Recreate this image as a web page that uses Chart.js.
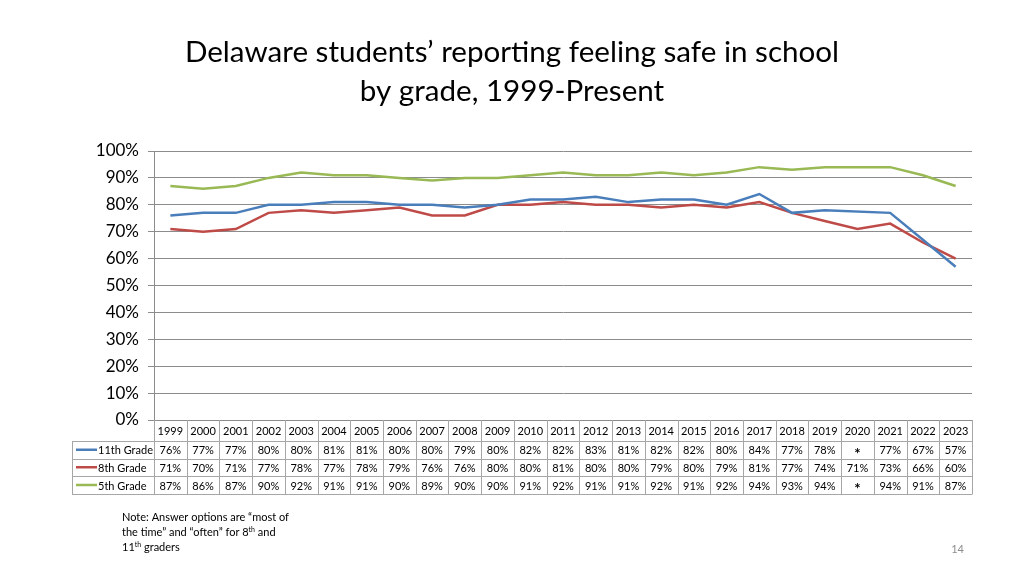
<!DOCTYPE html>
<html>
<head>
<meta charset="utf-8">
<script src="https://cdn.jsdelivr.net/npm/chart.js@4/dist/chart.umd.min.js"></script>
<style>
  html, body { margin: 0; background: #fff; }
  canvas { display: block; }
</style>
</head>
<body>
<canvas id="safeChart" width="1024" height="576"></canvas>
<script>
const years = ['1999', '2000', '2001', '2002', '2003', '2004', '2005', '2006', '2007', '2008', '2009', '2010', '2011',
  '2012', '2013', '2014', '2015', '2016', '2017', '2018', '2019', '2020', '2021', '2022', '2023'];
const grade11 = [76, 77, 77, 80, 80, 81, 81, 80, 80, 79, 80, 82, 82, 83, 81, 82, 82, 80, 84, 77, 78, null, 77, 67, 57];
const grade8 = [71, 70, 71, 77, 78, 77, 78, 79, 76, 76, 80, 80, 81, 80, 80, 79, 80, 79, 81, 77, 74, 71, 73, 66, 60];
const grade5 = [87, 86, 87, 90, 92, 91, 91, 90, 89, 90, 90, 91, 92, 91, 91, 92, 91, 92, 94, 93, 94, null, 94, 91, 87];
const seriesNames = ['11th Grade', '8th Grade', '5th Grade'];
const seriesColors = ['#4a7ebb', '#be4b48', '#98b954'];
const titleLines = ['Delaware students\u2019 reporting feeling safe in school', 'by grade, 1999-Present'];

const FONT = 'Lato, "Open Sans", sans-serif';

// title, data table under the plot, footnote and page number
const slidePlugin = {
  id: 'slide',
  afterDraw(chart) {
    const ctx = chart.ctx;
    const area = chart.chartArea;
    const xs = chart.scales.x;
    const colW = area.width / years.length;
    const top = area.bottom;
    const rows = [top, top + 21, top + 38.5, top + 56, top + 74];
    const labelLeft = 72;

    ctx.save();

    // title
    ctx.fillStyle = '#000';
    ctx.textAlign = 'center';
    ctx.textBaseline = 'alphabetic';
    ctx.font = '29.6px ' + FONT;
    ctx.fillText(titleLines[0], 512, 62);
    ctx.fillText(titleLines[1], 512, 101);

    // table grid
    ctx.strokeStyle = '#a6a6a6';
    ctx.lineWidth = 1;
    ctx.beginPath();
    for (let r = 1; r < rows.length; r++) {
      ctx.moveTo(labelLeft, Math.round(rows[r]) + 0.5);
      ctx.lineTo(area.right, Math.round(rows[r]) + 0.5);
    }
    for (let i = 0; i <= years.length; i++) {
      const px = Math.round(area.left + i * colW) + 0.5;
      ctx.moveTo(px, rows[0]);
      ctx.lineTo(px, Math.round(rows[4]) + 0.5);
    }
    ctx.moveTo(labelLeft + 0.5, Math.round(rows[1]) + 0.5);
    ctx.lineTo(labelLeft + 0.5, Math.round(rows[4]) + 0.5);
    ctx.stroke();

    // header years
    ctx.font = '11px ' + FONT;
    ctx.textBaseline = 'middle';
    ctx.textAlign = 'center';
    years.forEach((y, i) => {
      ctx.fillText(y, xs.getPixelForValue(i), (rows[0] + rows[1]) / 2 + 1);
    });

    // rows
    const values = [grade11, grade8, grade5];
    values.forEach((arr, r) => {
      const cy = (rows[r + 1] + rows[r + 2]) / 2 + 1;
      // legend key
      ctx.strokeStyle = seriesColors[r];
      ctx.lineWidth = 2.5;
      ctx.beginPath();
      ctx.moveTo(labelLeft + 4, cy - 1);
      ctx.lineTo(labelLeft + 25, cy - 1);
      ctx.stroke();
      ctx.textAlign = 'left';
      ctx.fillText(seriesNames[r], labelLeft + 26, cy);
      ctx.textAlign = 'center';
      arr.forEach((v, i) => {
        const px = xs.getPixelForValue(i);
        if (v === null) {
          ctx.font = 'bold 15px ' + FONT;
          ctx.fillText('*', px, cy + 3);
          ctx.font = '11px ' + FONT;
        } else {
          ctx.fillText(v + '%', px, cy);
        }
      });
    });

    // footnote
    ctx.textAlign = 'left';
    ctx.textBaseline = 'alphabetic';
    ctx.font = '11px ' + FONT;
    ctx.fillText('Note: Answer options are \u201cmost of', 122, 521);
    let tx = 122;
    const l2 = 'the time\u201d and \u201coften\u201d for 8';
    ctx.fillText(l2, tx, 536);
    tx += ctx.measureText(l2).width;
    ctx.font = '7px ' + FONT;
    ctx.fillText('th', tx, 532);
    tx += ctx.measureText('th').width;
    ctx.font = '11px ' + FONT;
    ctx.fillText(' and', tx, 536);
    tx = 122;
    ctx.fillText('11', tx, 551);
    tx += ctx.measureText('11').width;
    ctx.font = '7px ' + FONT;
    ctx.fillText('th', tx, 547);
    tx += ctx.measureText('th').width;
    ctx.font = '11px ' + FONT;
    ctx.fillText(' graders', tx, 551);

    // page number
    ctx.fillStyle = '#8c8c8c';
    ctx.textAlign = 'right';
    ctx.fillText('14', 964, 553);

    ctx.restore();
  }
};

const ctx = document.getElementById('safeChart').getContext('2d');

const makeSet = (label, data, color) => ({
  label: label,
  data: data,
  borderColor: color,
  backgroundColor: color,
  borderWidth: 2.5,
  pointRadius: 0,
  tension: 0,
  spanGaps: true,
  fill: false
});

new Chart(ctx, {
  type: 'line',
  data: {
    labels: years,
    datasets: [
      makeSet(seriesNames[0], grade11, seriesColors[0]),
      makeSet(seriesNames[1], grade8, seriesColors[1]),
      makeSet(seriesNames[2], grade5, seriesColors[2])
    ]
  },
  options: {
    responsive: false,
    animation: false,
    layout: {
      padding: { left: 0, right: 52, top: 151, bottom: 156 }
    },
    scales: {
      x: {
        display: false,
        offset: true
      },
      y: {
        min: 0,
        max: 100,
        afterFit: (scale) => { scale.width = 154; },
        ticks: {
          stepSize: 10,
          color: '#000',
          padding: 9,
          font: { family: FONT, size: 17 },
          callback: (v) => v + '%'
        },
        grid: {
          color: '#8c8c8c',
          lineWidth: 1,
          tickLength: 6
        },
        border: { color: '#8c8c8c' }
      }
    },
    plugins: {
      legend: { display: false },
      tooltip: { enabled: false }
    }
  },
  plugins: [slidePlugin]
});
</script>
</body>
</html>
